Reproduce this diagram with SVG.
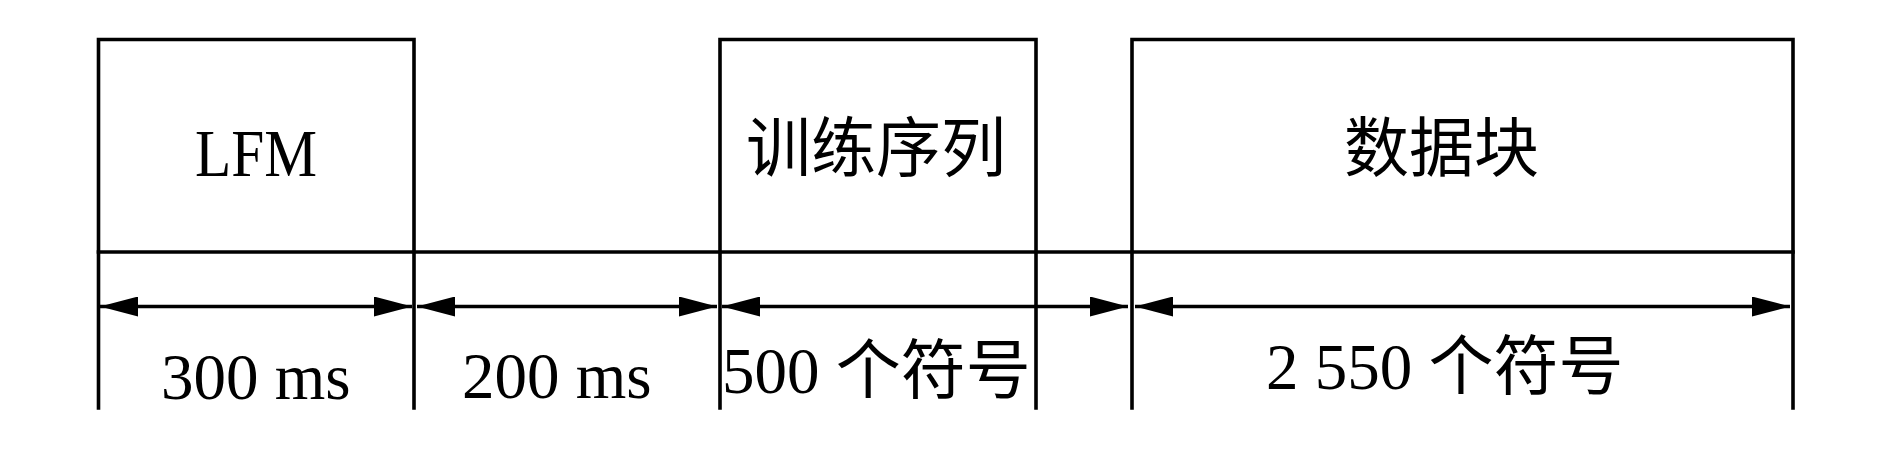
<svg xmlns="http://www.w3.org/2000/svg" width="1890" height="449" viewBox="0 0 1890 449">
<style>
.ln{stroke:#000;stroke-width:3.6;fill:none;stroke-linecap:square}
.ar{stroke:#000;stroke-width:3.6;fill:none}
.t{font-family:"Liberation Serif","Noto Sans CJK SC",serif;font-size:65px;fill:#000}
</style>
<defs>
<marker id="ah" viewBox="0 0 38 20" refX="38" refY="10" markerWidth="38" markerHeight="20" markerUnits="userSpaceOnUse" orient="auto-start-reverse">
<path d="M0,0 L38,10 L0,20 Z" fill="#000"/>
</marker>
</defs>
<rect width="1890" height="449" fill="#fff"/>
<g id="lfm">
<path class="ln" d="M98.5,408 V39.5 H414 V408"/>
<text class="t" x="195" y="176" style="font-size:67px" textLength="122" lengthAdjust="spacingAndGlyphs">LFM</text>
</g>
<g id="gap">
<text class="t" x="462" y="398">200 ms</text>
</g>
<g id="training">
<path class="ln" d="M720,408 V39.5 H1036 V408"/>
<text class="t" x="746" y="171">训练序列</text>
</g>
<g id="data">
<path class="ln" d="M1132,408 V39.5 H1793 V408"/>
<text class="t" x="1344" y="171">数据块</text>
</g>
<g id="baseline">
<path class="ln" d="M98.5,252 H1793"/>
</g>
<g id="connectors">
<path class="ar" d="M100,306.5 H412" marker-start="url(#ah)" marker-end="url(#ah)"/>
<path class="ar" d="M417,306.5 H717" marker-start="url(#ah)" marker-end="url(#ah)"/>
<path class="ar" d="M722,306.5 H1128" marker-start="url(#ah)" marker-end="url(#ah)"/>
<path class="ar" d="M1135,306.5 H1790" marker-start="url(#ah)" marker-end="url(#ah)"/>
</g>
<g id="labels">
<text class="t" x="161" y="399">300 ms</text>
<text class="t" x="722" y="393">500 个符号</text>
<text class="t" x="1266" y="389">2 550 个符号</text>
</g>
</svg>
